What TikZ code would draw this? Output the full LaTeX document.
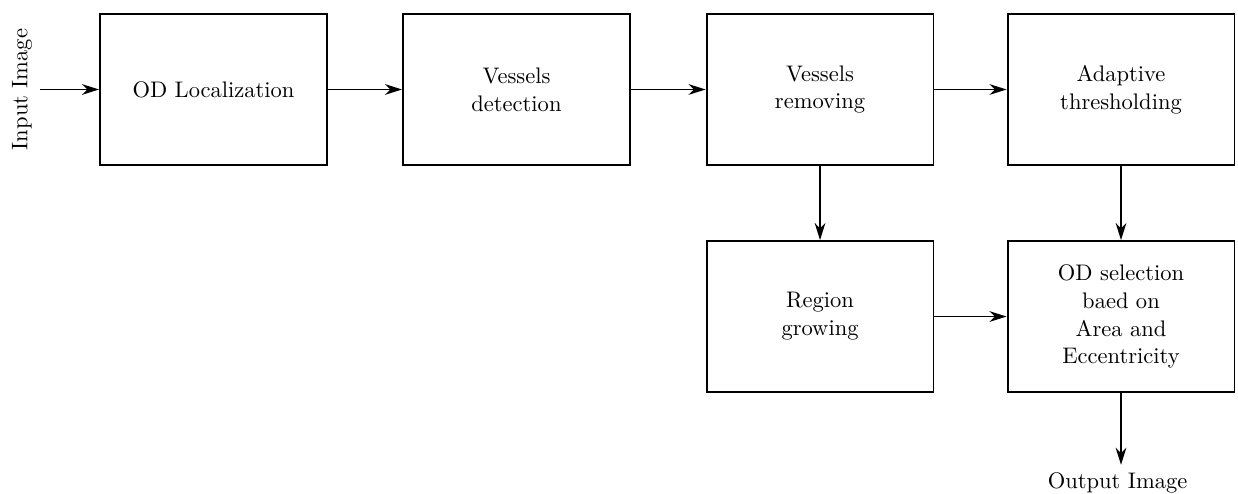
\documentclass[tikz,border=0pt]{standalone}
\usetikzlibrary{arrows.meta,positioning}
\tikzset{>={Stealth[length=8pt,width=5pt]}}

\begin{document}
\begin{tikzpicture}[font=\fontsize{10.5}{13}\selectfont]

        % Setup the style for the blocks
        \tikzset{block style/.style={draw,
                                     line width=0.9pt,
                                     minimum width=3.72cm,
                                     minimum height=2.475cm,
                                     align=center}}
        \useasboundingbox (0,0) rectangle (20.295,-8.098);

        % Draw the blocks
        \node[block style] at (3.50, -1.467)   (loc)    {OD Localization};
        \node[block style] at (8.467, -1.467)  (det)    {Vessels\\detection};
        \node[block style] at (13.443, -1.467) (rem)    {Vessels\\removing};
        \node[block style] at (18.377, -1.467) (thr)    {Adaptive\\thresholding};
        \node[block style] at (13.443, -5.189) (grow)   {Region\\growing};
        \node[block style] at (18.377, -5.189) (sel)    {OD selection\\baed on\\Area and\\Eccentricity};

        % Input and output
        \node[rotate=90] at (0.36, -1.467) (in)  {Input Image};
        \node[anchor=north] at (18.32, -7.62) (out) {Output Image};
        \coordinate (inend) at (0.66, -1.467);
        \coordinate (outend) at (18.377, -7.62);

        % Connect the blocks with arrows
        \path[every edge/.append style={->, line width=0.9pt}]
            (inend) edge (loc)
            (loc) edge (det)
            (det) edge (rem)
            (rem) edge (thr)
            (rem) edge (grow)
            (thr) edge (sel)
            (grow) edge (sel)
            (sel) edge (outend);
    \end{tikzpicture}
\end{document}
